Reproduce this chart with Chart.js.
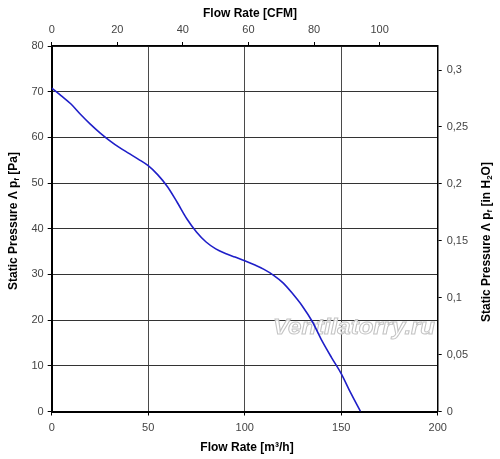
<!DOCTYPE html>
<html>
<head>
<meta charset="utf-8">
<script src="https://cdn.jsdelivr.net/npm/chart.js@4.4.1/dist/chart.umd.min.js"></script>
<style>
  html, body { margin: 0; padding: 0; background: #fff; }
  #wrap { width: 500px; height: 459px; }
</style>
</head>
<body>
<div id="wrap"><canvas id="fanChart" width="500" height="459"></canvas></div>
<script>
// Характеристика вентилятора: расход [м³/ч] и статическое давление [Па]
const flowRate = [0, 5, 10, 15, 20, 25, 30, 35, 40, 45, 50, 55, 60, 65, 70, 75, 80, 85, 90, 95,
                  100, 105, 110, 115, 120, 125, 130, 135, 140, 145, 150, 155, 160];
const staticPressure = [70.8, 69.1, 67.3, 65.0, 62.9, 61.0, 59.3, 57.8, 56.5, 55.2, 53.8, 51.8, 49.2, 45.8, 42.2, 39.3, 37.1, 35.6, 34.6, 33.8,
                        33.0, 32.1, 31.1, 29.8, 28.1, 25.7, 23.0, 19.7, 15.5, 11.8, 8.3, 4.0, 0];

// Оси
const flowTicks = [0, 50, 100, 150, 200];
const cfmTicks = [0, 20, 40, 60, 80, 100];
const paTicks = [0, 10, 20, 30, 40, 50, 60, 70, 80];
const inH2OTicks = [0, 0.05, 0.1, 0.15, 0.2, 0.25, 0.3];

const M3H_PER_CFM = 1.699;
const PA_PER_INH2O = 249.09;

const tickFont = { family: 'Arial, "Liberation Sans", sans-serif', size: 11 };
const tickColor = '#444';

// Подписи осей и водяной знак рисуем вручную (нужны индексы)
const titlesPlugin = {
  id: 'titles',
  beforeDatasetsDraw(chart) {
    const ctx = chart.ctx;
    ctx.save();
    ctx.font = 'bold italic 22px Arial, "Liberation Sans", sans-serif';
    const txt = 'Ventilatorry.ru';
    const w = ctx.measureText(txt).width;
    const scale = 162 / w;
    ctx.translate(354, 328);
    ctx.scale(scale, 1);
    ctx.textAlign = 'center';
    ctx.textBaseline = 'middle';
    ctx.fillStyle = 'rgba(255,255,255,0.85)';
    ctx.fillText(txt, 0, 0);
    ctx.lineWidth = 1;
    ctx.strokeStyle = '#c4c4c4';
    ctx.strokeText(txt, 0, 0);
    ctx.restore();
  },
  afterDraw(chart) {
    const ctx = chart.ctx;
    const bold = 'bold 12px Arial, "Liberation Sans", sans-serif';
    const small = 'bold 8px Arial, "Liberation Sans", sans-serif';
    ctx.save();
    ctx.fillStyle = '#000';
    ctx.textBaseline = 'middle';
    ctx.font = bold;
    ctx.textAlign = 'center';
    ctx.fillText('Flow Rate [CFM]', 250, 14);
    ctx.fillText('Flow Rate [m³/h]', 247, 448);

    // rich text: части с индексом
    function rich(parts, cx, cy) {
      let total = 0;
      parts.forEach(p => { ctx.font = p.sub ? small : bold; total += ctx.measureText(p.t).width; });
      ctx.save();
      ctx.translate(cx, cy);
      ctx.rotate(-Math.PI / 2);
      ctx.textAlign = 'left';
      let x = -total / 2;
      parts.forEach(p => {
        ctx.font = p.sub ? small : bold;
        ctx.fillText(p.t, x, p.sub ? 3 : 0);
        x += ctx.measureText(p.t).width;
      });
      ctx.restore();
    }
    rich([{ t: 'Static Pressure Λ p' }, { t: 'f', sub: true }, { t: ' [Pa]' }], 14, 221);
    rich([{ t: 'Static Pressure Λ p' }, { t: 'f', sub: true }, { t: ' [in H' }, { t: '2', sub: true }, { t: 'O]' }], 487, 242);
    ctx.restore();
  }
};

const ctx = document.getElementById('fanChart').getContext('2d');
new Chart(ctx, {
  type: 'scatter',
  data: {
    datasets: [{
      data: flowRate.map((q, i) => ({ x: q, y: staticPressure[i] })),
      showLine: true,
      borderColor: '#1f1fc8',
      borderWidth: 1.6,
      pointRadius: 0,
      cubicInterpolationMode: 'monotone',
      xAxisID: 'x',
      yAxisID: 'y'
    }]
  },
  options: {
    responsive: false,
    animation: false,
    layout: { padding: 0 },
    plugins: { legend: { display: false }, tooltip: { enabled: false } },
    scales: {
      x: {
        type: 'linear', position: 'bottom',
        min: flowTicks[0], max: flowTicks[flowTicks.length - 1],
        afterBuildTicks: s => { s.ticks = flowTicks.map(v => ({ value: v })); },
        afterFit: s => { s.height = 47.5; },
        ticks: { font: tickFont, color: tickColor, padding: 6 },
        grid: { color: '#4a4a4a', lineWidth: 1, tickLength: 4, tickColor: '#000' },
        border: { color: '#000', width: 2 }
      },
      x2: {
        type: 'linear', position: 'top', axis: 'x',
        min: 0, max: flowTicks[flowTicks.length - 1] / M3H_PER_CFM,
        afterBuildTicks: s => { s.ticks = cfmTicks.map(v => ({ value: v })); },
        afterFit: s => { s.height = 46; },
        ticks: { font: tickFont, color: tickColor, padding: 5 },
        grid: { drawOnChartArea: false, tickLength: 4, tickColor: '#000' },
        border: { color: '#000', width: 1.5 }
      },
      y: {
        type: 'linear', position: 'left',
        min: paTicks[0], max: paTicks[paTicks.length - 1],
        afterBuildTicks: s => { s.ticks = paTicks.map(v => ({ value: v })); },
        afterFit: s => { s.width = 51.7; },
        ticks: { font: tickFont, color: tickColor, padding: 4 },
        grid: { color: '#333', lineWidth: 1, tickLength: 4, tickColor: '#000' },
        border: { color: '#000', width: 2 }
      },
      y2: {
        type: 'linear', position: 'right', axis: 'y',
        min: 0, max: paTicks[paTicks.length - 1] / PA_PER_INH2O,
        afterBuildTicks: s => { s.ticks = inH2OTicks.map(v => ({ value: v })); },
        afterFit: s => { s.width = 62.3; },
        ticks: {
          font: tickFont, color: tickColor, padding: 5,
          callback: v => String(Math.round(v * 100) / 100).replace('.', ',')
        },
        grid: { drawOnChartArea: false, tickLength: 4, tickColor: '#000' },
        border: { color: '#000', width: 1.5 }
      }
    }
  },
  plugins: [titlesPlugin]
});
</script>
</body>
</html>
